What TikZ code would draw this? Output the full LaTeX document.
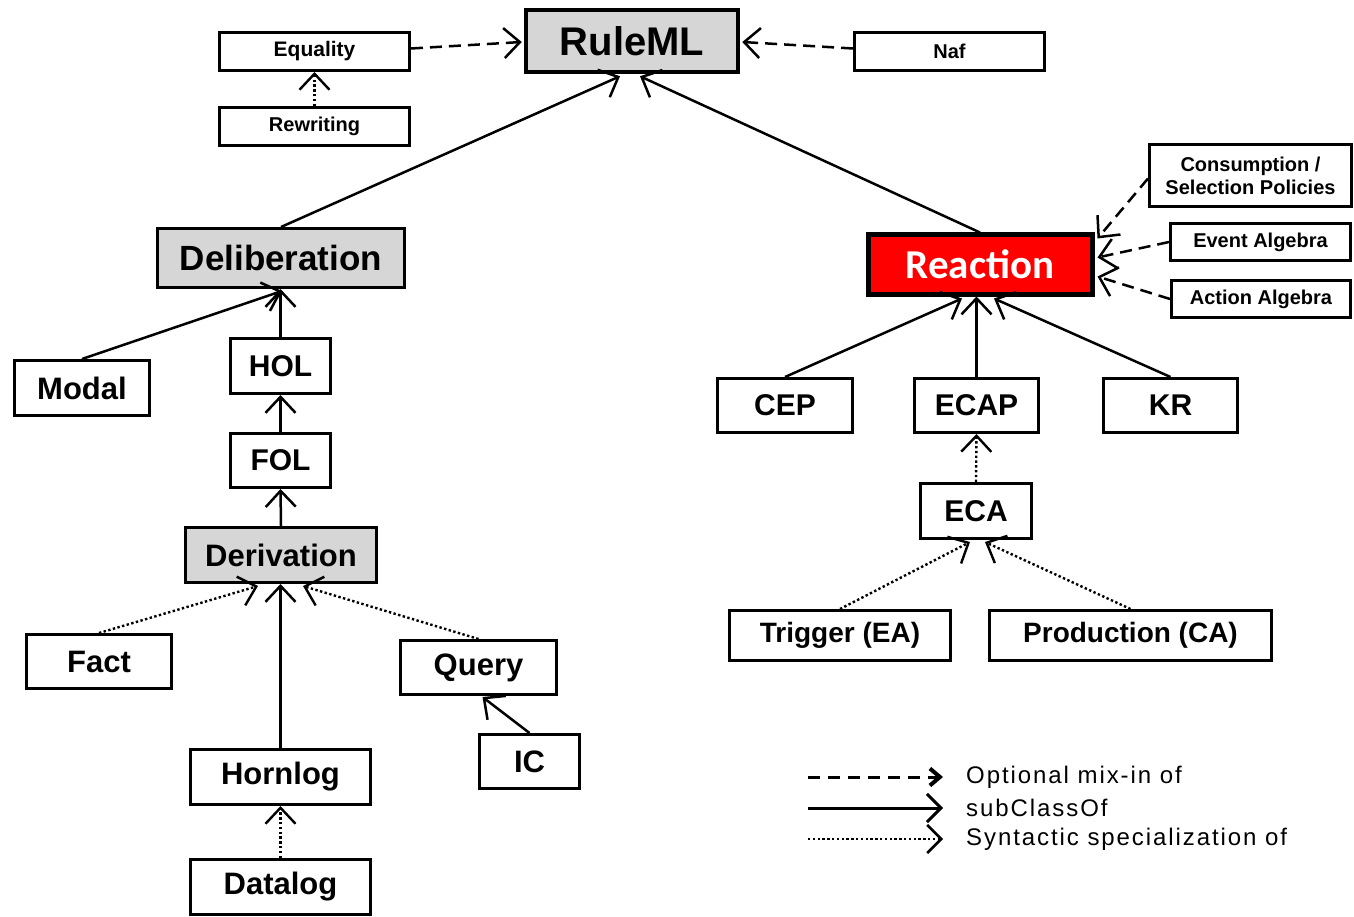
\documentclass[tikz,border=0pt]{standalone}
\usepackage{fontspec}
\setmainfont{Liberation Sans}
\newfontfamily\calib{Carlito}
\newfontfamily\legfont{Liberation Sans}[LetterSpace=8]
\usetikzlibrary{arrows.meta,calc}
\definecolor{boxgray}{RGB}{214,214,214}
\definecolor{rred}{RGB}{255,0,0}
\newcommand\fsz[1]{\fontsize{#1}{#1}\selectfont}
\begin{document}
\begin{tikzpicture}[x=1pt,y=-1pt,
  box/.style={draw, line width=3pt, fill=white, inner sep=0pt, font=\bfseries},
  gbox/.style={box, fill=boxgray},
  sub/.style={line width=2.5pt, -{Straight Barb[length=16pt,width=30pt]}},
  mix/.style={sub, dash pattern=on 12pt off 7pt},
  syn/.style={sub, line width=2.4pt, dash pattern=on 2.4pt off 2.4pt},
  leg/.style={anchor=west, inner sep=0pt, font=\legfont\fsz{24}}]
\useasboundingbox (0,0) rectangle (1354,917);
\fill[white] (0,0) rectangle (1354,917);

% top row
\node[gbox, line width=4.5pt, minimum width=212, minimum height=62] (ruleml) at (632,41) {\fsz{40}RuleML};
\node[box, minimum width=190, minimum height=38] (equality) at (314.5,51.5) {\fsz{21}Equality};
\node[box, minimum width=190, minimum height=38] (rewriting) at (314.5,126.5) {\fsz{20}Rewriting};
\node[box, minimum width=190, minimum height=38] (naf) at (949.5,51.5) {\fsz{20}Naf};

% right mix-ins
\node[box, align=center, minimum width=202, minimum height=62,
      font=\bfseries\fontsize{20}{23}\selectfont] (cons) at (1250.5,175.5) {Consumption /\\Selection Policies};
\node[box, minimum width=180, minimum height=37] (event) at (1260.5,242) {\fsz{20}Event Algebra};
\node[box, minimum width=179, minimum height=37] (action) at (1261,299) {\fsz{20}Action Algebra};

% reaction
\node[draw, line width=5pt, fill=rred, inner sep=0pt, minimum width=224, minimum height=59,
      text=white, font=\calib\bfseries] (reaction) at (980,264.5) {\fsz{41}Reaction};

% deliberation side
\node[gbox, minimum width=247, minimum height=59] (delib) at (281,258) {\fsz{35}Deliberation};
\node[box, minimum width=135, minimum height=55] (modal) at (82,388) {\fsz{31}Modal};
\node[box, minimum width=100, minimum height=55] (hol) at (280.5,366) {\fsz{30}HOL};
\node[box, minimum width=100, minimum height=54] (fol) at (280.5,460.5) {\fsz{30}FOL};
\node[gbox, minimum width=191, minimum height=55] (deriv) at (281,555) {\fsz{31}Derivation};
\node[box, minimum width=145, minimum height=54] (fact) at (99,661.5) {\fsz{31}Fact};
\node[box, minimum width=156, minimum height=54] (query) at (478.5,667.5) {\fsz{31}Query};
\node[box, minimum width=100, minimum height=54] (ic) at (529.5,761.5) {\fsz{31}IC};
\node[box, minimum width=180, minimum height=55] (hornlog) at (280.5,777) {\fsz{31}Hornlog};
\node[box, minimum width=180, minimum height=55] (datalog) at (280.5,887) {\fsz{31}Datalog};

% reaction side
\node[box, minimum width=135, minimum height=54] (cep) at (785,405.5) {\fsz{30}CEP};
\node[box, minimum width=124, minimum height=54] (ecap) at (976.5,405.5) {\fsz{30}ECAP};
\node[box, minimum width=134, minimum height=54] (kr) at (1170.5,405.5) {\fsz{30}KR};
\node[box, minimum width=111, minimum height=55] (eca) at (976,511) {\fsz{30}ECA};
\node[box, minimum width=221, minimum height=50] (trigger) at (840,635.5) {\fsz{28}Trigger (EA)};
\node[box, minimum width=282, minimum height=50] (production) at (1130.5,635.5) {\fsz{28}Production (CA)};

% connectors: top
\draw[mix] ($(equality.east)+(0,-3)$) -- ($(ruleml.west)+(-2,1)$);
\draw[mix] ($(naf.west)+(0,-3)$) -- ($(ruleml.east)+(2,1)$);
\draw[syn] (rewriting.north) -- (equality.south);
\draw[sub] (delib.north) -- ($(ruleml.south)+(-12,2)$);
\draw[sub] (reaction.north) -- ($(ruleml.south)+(8,2)$);

% deliberation
\draw[sub] (modal.north) -- ($(delib.south)+(1,2)$);
\draw[sub] (hol.north) -- (hol.north |- delib.south);
\draw[sub] (fol.north) -- (hol.south);
\draw[sub] (deriv.north) -- (fol.south);
\draw[sub] (hornlog.north) -- (hornlog.north |- deriv.south);
\draw[syn] (fact.north) -- ($(deriv.south)+(-23,2)$);
\draw[syn] (query.north) -- ($(deriv.south)+(22,2)$);
\draw[sub] (ic.north) -- ($(query.south)+(4,1)$);
\draw[syn] (datalog.north) -- (hornlog.south);

% reaction
\draw[sub] (cep.north) -- ($(reaction.south)+(-18,2)$);
\draw[sub] (ecap.north) -- (ecap.north |- reaction.south);
\draw[sub] (kr.north) -- ($(reaction.south)+(14,2)$);
\draw[syn] (eca.north) -- (ecap.south);
\draw[syn] (trigger.north) -- ($(eca.south)+(-6,2)$);
\draw[syn] (production.north) -- ($(eca.south)+(9,2)$);
\draw[mix] ($(cons.west)+(0,3)$) -- ($(reaction.east)+(3,-26)$);
\draw[mix] (event.west) -- ($(reaction.east)+(3,-7)$);
\draw[mix] (action.west) -- ($(reaction.east)+(3,12)$);

% legend
\coordinate (la1) at (808,777); \coordinate (lb1) at (943,777);
\coordinate (la2) at (808,808); \coordinate (lb2) at (943,808);
\coordinate (la3) at (808,839); \coordinate (lb3) at (943,839);
\draw[line width=3pt, dash pattern=on 12pt off 8pt, -{Straight Barb[length=10pt,width=17pt,line width=4pt]}] (la1) -- (lb1);
\draw[line width=3pt, -{Straight Barb[length=14pt,width=28pt]}] (la2) -- (lb2);
\draw[line width=2.6pt, dash pattern=on 2.4pt off 2.4pt, -{Straight Barb[length=14pt,width=28pt]}] (la3) -- (lb3);
\node[leg] (t1) at (966,777) {Optional mix-in of};
\node[leg] (t2) at (966,808) {subClassOf};
\node[leg] (t3) at (966,839) {Syntactic specialization of};
\end{tikzpicture}
\end{document}
